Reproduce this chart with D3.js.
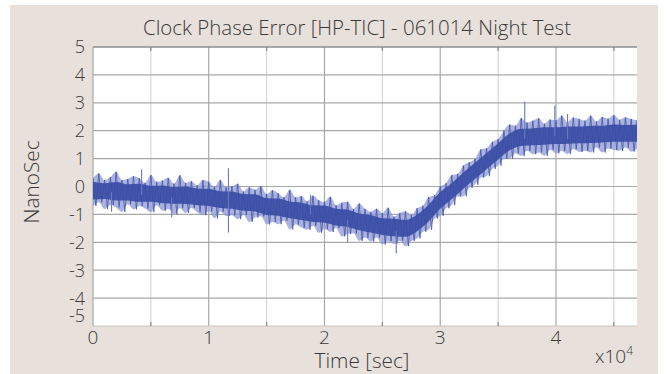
<!DOCTYPE html>
<html><head><meta charset="utf-8">
<script src="https://cdn.jsdelivr.net/npm/d3@7"></script>
<style>body{margin:0;background:#fff}text{font-family:"Open Sans","Noto Sans",sans-serif;font-weight:300;fill:#3a3a3a}</style>
</head><body><svg id="c" width="667" height="374"></svg>
<script>
// ---- data ----
const title = "Clock Phase Error [HP-TIC] - 061014 Night Test";
const xLabel = "Time [sec]";
const yLabel = "NanoSec";
const yTicks = [-5,-4,-3,-2,-1,0,1,2,3,4,5];
const xTicks = [0,10000,20000,30000,40000];
const xTickLabels = ["0","1","2","3","4"];
const xMinorTicks = [5000,15000,25000,35000,45000];
const xMax = 47000;
const envStep = 500;   // seconds between samples
const coreStep = 1000;
// mid-line of the noisy trace (ns), every 500 s
const trend = [-0.15,-0.15,-0.15,-0.16,-0.17,-0.18,-0.2,-0.21,-0.22,-0.23,
-0.25,-0.27,-0.28,-0.29,-0.3,-0.32,-0.33,-0.34,-0.35,-0.38,
-0.4,-0.43,-0.45,-0.48,-0.5,-0.53,-0.55,-0.58,-0.6,-0.65,
-0.7,-0.72,-0.75,-0.78,-0.82,-0.86,-0.9,-0.92,-0.95,-0.98,
-1.0,-1.04,-1.08,-1.12,-1.15,-1.2,-1.25,-1.3,-1.35,-1.38,
-1.42,-1.45,-1.48,-1.5,-1.5,-1.45,-1.3,-1.15,-0.95,-0.72,
-0.5,-0.32,-0.15,0.05,0.22,0.4,0.57,0.75,0.92,1.1,
1.27,1.45,1.6,1.7,1.75,1.77,1.78,1.79,1.8,1.8,
1.82,1.82,1.83,1.84,1.85,1.86,1.86,1.87,1.88,1.89,
1.9,1.9,1.9,1.9,1.9];
// how far the noise reaches above the mid-line (ns)
const noiseUp = [0.45,0.62,0.38,0.50,0.70,0.41,0.47,0.58,0.52,0.36,
0.66,0.44,0.49,0.60,0.40,0.72,0.46,0.53,0.39,0.61,
0.57,0.42,0.68,0.45,0.50,0.63,0.37,0.55,0.48,0.66,
0.43,0.59,0.51,0.40,0.70,0.47,0.56,0.38,0.62,0.49,
0.45,0.67,0.41,0.54,0.60,0.39,0.64,0.50,0.44,0.58,
0.47,0.69,0.40,0.55,0.61,0.43,0.52,0.46,0.57,0.41,
0.50,0.44,0.56,0.40,0.53,0.47,0.42,0.58,0.45,0.50,
0.43,0.55,0.62,0.48,0.70,0.52,0.58,0.66,0.45,0.60,
0.55,0.72,0.48,0.63,0.57,0.50,0.68,0.46,0.61,0.54,
0.66,0.49,0.58,0.52,0.47];
// how far the noise reaches below the mid-line (ns)
const noiseDown = [0.55,0.42,0.66,0.50,0.58,0.73,0.44,0.61,0.48,0.56,
0.67,0.40,0.59,0.52,0.70,0.46,0.62,0.43,0.57,0.65,
0.49,0.71,0.45,0.58,0.53,0.64,0.47,0.69,0.51,0.42,
0.66,0.55,0.60,0.44,0.72,0.50,0.57,0.63,0.46,0.68,
0.52,0.59,0.41,0.67,0.55,0.48,0.70,0.53,0.62,0.45,
0.66,0.51,0.58,0.44,0.64,0.50,0.56,0.47,0.60,0.43,
0.55,0.46,0.52,0.41,0.57,0.45,0.50,0.43,0.55,0.47,
0.52,0.46,0.60,0.51,0.66,0.49,0.62,0.57,0.70,0.48,
0.63,0.55,0.67,0.50,0.61,0.58,0.64,0.47,0.66,0.53,
0.59,0.62,0.50,0.65,0.55];
// dense core of the trace, every 1000 s
const coreHi = [0.17,0.12,0.16,0.08,0.10,0.03,0.04,-0.02,0.00,-0.07,-0.08,-0.17,-0.18,-0.27,-0.28,-0.42,-0.43,-0.54,-0.58,-0.67,
-0.68,-0.80,-0.83,-0.97,-1.02,-1.14,-1.16,-1.20,-1.00,-0.65,-0.20,0.12,0.50,0.85,1.20,1.55,1.90,2.07,2.08,2.12,
2.12,2.15,2.15,2.18,2.18,2.22,2.20,2.22];
const coreLo = [-0.47,-0.45,-0.50,-0.50,-0.55,-0.55,-0.60,-0.62,-0.63,-0.67,-0.70,-0.77,-0.80,-0.87,-0.90,-1.02,-1.05,-1.14,-1.20,-1.27,
-1.30,-1.40,-1.45,-1.57,-1.65,-1.74,-1.78,-1.80,-1.60,-1.25,-0.80,-0.45,-0.08,0.27,0.62,0.97,1.30,1.45,1.48,1.50,
1.52,1.53,1.55,1.56,1.58,1.60,1.60,1.60];
// isolated spikes: [time, low, high]
const spikes = [[4200,-0.3,0.62],[1600,-0.9,-0.2],[11700,-1.65,0.65],[18800,-1.0,-0.3],[22000,-2.0,-1.2],
[26200,-2.4,-1.6],[37300,1.7,3.05],[39900,1.8,2.9],[41000,1.7,2.6],[6800,-1.1,-0.4]];

// ---- layout ----
const svg = d3.select("#c");
const L=93, R=637, T=47, B=326;
const x = d3.scaleLinear().domain([0,xMax]).range([L,R]);
const y = d3.scaleLinear().domain([-5,5]).range([B,T]);

svg.append("rect").attr("x",10).attr("y",5).attr("width",648).attr("height",369).attr("fill","#e8e0da");
svg.append("rect").attr("x",L).attr("y",T).attr("width",R-L).attr("height",B-T).attr("fill","#ffffff");

const g = svg.append("g");
g.selectAll(".vmin").data(xMinorTicks).join("line")
 .attr("x1",d=>x(d)).attr("x2",d=>x(d)).attr("y1",T).attr("y2",B)
 .attr("stroke","#cfcfcf").attr("stroke-width",1);
g.selectAll(".vmaj").data(xTicks.slice(1)).join("line")
 .attr("x1",d=>x(d)).attr("x2",d=>x(d)).attr("y1",T).attr("y2",B)
 .attr("stroke","#a8a8a8").attr("stroke-width",1.2);
g.selectAll(".h").data(yTicks.filter(v=>v>-5&&v<5)).join("line")
 .attr("x1",L).attr("x2",R).attr("y1",d=>y(d)).attr("y2",d=>y(d))
 .attr("stroke","#a8a8a8").attr("stroke-width",1.2);
g.append("line").attr("x1",L).attr("x2",R).attr("y1",T).attr("y2",T).attr("stroke","#8c8c8c").attr("stroke-width",1.5);
g.append("line").attr("x1",L).attr("x2",R).attr("y1",B).attr("y2",B).attr("stroke","#c4c4c4").attr("stroke-width",1);
g.append("line").attr("x1",L).attr("x2",L).attr("y1",T).attr("y2",B).attr("stroke","#a8a8a8").attr("stroke-width",1.2);
g.selectAll(".mt").data(xMinorTicks).join("line")
 .attr("x1",d=>x(d)).attr("x2",d=>x(d)).attr("y1",B).attr("y2",B-4)
 .attr("stroke","#8a8a8a").attr("stroke-width",1.2);
g.selectAll(".mtt").data(xMinorTicks).join("line")
 .attr("x1",d=>x(d)).attr("x2",d=>x(d)).attr("y1",T).attr("y2",T+4)
 .attr("stroke","#8a8a8a").attr("stroke-width",1.2);

// ---- data marks ----
svg.append("clipPath").attr("id","clip").append("rect").attr("x",L).attr("y",T).attr("width",R-L).attr("height",B-T);
const dg = svg.append("g").attr("clip-path","url(#clip)");
const outer = trend.map((c,i)=>({t:i*envStep,hi:c+noiseUp[i],lo:c-noiseDown[i]}));
const core = coreHi.map((h,i)=>({t:i*coreStep,hi:h,lo:coreLo[i]}));
dg.append("path").datum(outer)
 .attr("d",d3.area().curve(d3.curveMonotoneX).x(d=>x(d.t)).y0(d=>y(d.lo)).y1(d=>y(d.hi)))
 .attr("fill","#8e98d2").attr("opacity",0.75);
const zig = [];
outer.forEach(d=>{ zig.push([d.t,d.hi]); zig.push([d.t+envStep/2,d.lo]); });
dg.append("path").datum(zig)
 .attr("d",d3.line().x(d=>x(d[0])).y(d=>y(d[1])))
 .attr("fill","none").attr("stroke","#4254ac").attr("stroke-width",0.8);
dg.append("path").datum(core)
 .attr("d",d3.area().curve(d3.curveMonotoneX).x(d=>x(d.t)).y0(d=>y(d.lo)).y1(d=>y(d.hi)))
 .attr("fill","#3a4da5").attr("opacity",0.92);
dg.selectAll(".sp").data(spikes).join("line")
 .attr("x1",d=>x(d[0])).attr("x2",d=>x(d[0])).attr("y1",d=>y(d[1])).attr("y2",d=>y(d[2]))
 .attr("stroke","#6a78c0").attr("stroke-width",1.1);

// ---- text ----
svg.append("text").attr("x",357).attr("y",35).attr("text-anchor","middle")
 .attr("font-size",21).attr("textLength",428).attr("lengthAdjust","spacingAndGlyphs").text(title);
svg.selectAll(".yl").data(yTicks).join("text")
 .attr("x",85).attr("y",d=>d===-5? y(d)-10 : y(d)).attr("dy","0.36em").attr("text-anchor","end")
 .attr("font-size",18).text(d=>d);
svg.selectAll(".xl").data(xTicks).join("text")
 .attr("x",d=>x(d)).attr("y",344).attr("text-anchor","middle")
 .attr("font-size",19).text((d,i)=>xTickLabels[i]);
svg.append("text").attr("x",362).attr("y",368).attr("text-anchor","middle")
 .attr("font-size",20).attr("textLength",95).attr("lengthAdjust","spacingAndGlyphs").text(xLabel);
svg.append("text").attr("transform","translate(39,182) rotate(-90)").attr("text-anchor","middle")
 .attr("font-size",20).attr("textLength",83).attr("lengthAdjust","spacingAndGlyphs").text(yLabel);
const ex = svg.append("text").attr("x",595).attr("y",363).attr("font-size",19);
ex.append("tspan").text("x10");
ex.append("tspan").attr("dy",-8).attr("font-size",12).text("4");
</script></body></html>
